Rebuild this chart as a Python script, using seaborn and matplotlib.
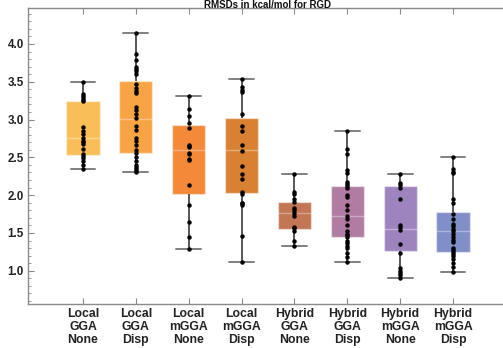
import pandas as pd
import seaborn as sns
import matplotlib.pyplot as plt
from matplotlib.ticker import MultipleLocator

# method labels (three lines each)
methods = ["Local\nGGA\nNone", "Local\nGGA\nDisp", "Local\nmGGA\nNone", "Local\nmGGA\nDisp",
           "Hybrid\nGGA\nNone", "Hybrid\nGGA\nDisp", "Hybrid\nmGGA\nNone", "Hybrid\nmGGA\nDisp"]

# box summary: min, Q1, median, Q3, max
box_min = [2.35, 2.30, 1.29, 1.11, 1.33, 1.11, 0.91, 0.98]
box_q1 = [2.53, 2.555, 2.01, 2.025, 1.555, 1.45, 1.26, 1.25]
box_med = [2.76, 3.01, 2.60, 2.60, 1.77, 1.725, 1.555, 1.53]
box_q3 = [3.25, 3.515, 2.925, 3.015, 1.915, 2.12, 2.12, 1.775]
box_max = [3.50, 4.14, 3.31, 3.54, 2.28, 2.85, 2.28, 2.50]

# individual RMSD points
pts_local_gga_none = [3.50, 3.34, 3.31, 3.28, 3.26, 3.24, 2.90, 2.85, 2.81, 2.76, 2.72, 2.70,
                      2.68, 2.61, 2.545, 2.52, 2.49, 2.45, 2.40, 2.35]
pts_local_gga_disp = [4.14, 3.87, 3.79, 3.70, 3.67, 3.64, 3.60, 3.47, 3.42, 3.38, 3.35, 3.16,
                      3.13, 3.07, 3.02, 2.91, 2.86, 2.75, 2.71, 2.66, 2.60, 2.56, 2.50, 2.45,
                      2.40, 2.37, 2.35, 2.32, 2.30]
pts_local_mgga_none = [3.31, 3.14, 3.05, 2.96, 2.89, 2.67, 2.655, 2.64, 2.56, 2.545, 2.48,
                       2.46, 2.14, 1.87, 1.65, 1.45, 1.29]
pts_local_mgga_disp = [3.54, 3.43, 3.39, 3.36, 3.07, 2.91, 2.85, 2.66, 2.59, 2.39, 2.28, 2.21,
                       2.045, 2.02, 1.90, 1.89, 1.87, 1.46, 1.11]
pts_hybrid_gga_none = [2.28, 2.045, 2.02, 1.95, 1.91, 1.83, 1.80, 1.76, 1.72, 1.58, 1.56,
                       1.53, 1.40, 1.33]
pts_hybrid_gga_disp = [2.85, 2.61, 2.54, 2.33, 2.29, 2.17, 2.15, 2.12, 2.09, 2.00, 1.97, 1.87,
                       1.80, 1.72, 1.69, 1.60, 1.52, 1.49, 1.47, 1.44, 1.40, 1.37, 1.33, 1.30,
                       1.23, 1.18, 1.11]
pts_hybrid_mgga_none = [2.28, 2.16, 2.13, 2.10, 1.95, 1.61, 1.58, 1.54, 1.36, 1.23, 1.03,
                        1.00, 0.97, 0.95, 0.91]
pts_hybrid_mgga_disp = [2.50, 2.34, 2.31, 2.29, 1.95, 1.89, 1.75, 1.68, 1.62, 1.59, 1.55, 1.53,
                        1.49, 1.45, 1.41, 1.38, 1.30, 1.27, 1.25, 1.22, 1.19, 1.16, 1.10, 1.05,
                        0.98]

colors = ["#F9BE57", "#F8A445", "#F48A37", "#D98033", "#C37653", "#B27BA3", "#9D84BF", "#818FC9"]

points = [pts_local_gga_none, pts_local_gga_disp, pts_local_mgga_none, pts_local_mgga_disp,
          pts_hybrid_gga_none, pts_hybrid_gga_disp, pts_hybrid_mgga_none, pts_hybrid_mgga_disp]

box_df = pd.DataFrame(
    [(m, v) for m, a, b, c, d, e in zip(methods, box_min, box_q1, box_med, box_q3, box_max)
     for v in (a, b, c, d, e)],
    columns=["method", "rmsd"])
pts_df = pd.DataFrame([(m, v) for m, p in zip(methods, points) for v in p],
                      columns=["method", "rmsd"])

sns.set_style("white")
plt.rcParams["font.family"] = ["Liberation Sans", "DejaVu Sans"]

fig = plt.figure(figsize=(5.03, 3.48), dpi=100)
ax = fig.add_axes([28 / 503, 1 - 304 / 348, 480 / 503, 296 / 348])

sns.boxplot(data=box_df, x="method", y="rmsd", order=methods, hue="method",
            palette=colors, legend=False, saturation=1, width=0.63, whis=(0, 100),
            linewidth=1.2, capwidths=0.47,
            boxprops=dict(edgecolor=(1, 1, 1, 0.45), linewidth=1),
            medianprops=dict(color=(1, 1, 1, 0.35), linewidth=1),
            whiskerprops=dict(color="#3a3a3a", linewidth=1.2),
            capprops=dict(color="#808080", linewidth=1.4),
            ax=ax)
sns.stripplot(data=pts_df, x="method", y="rmsd", order=methods, jitter=False,
              color="black", size=3.2, linewidth=0, zorder=5, ax=ax)

ax.set_xlim(-1.04, 8.04)
ax.set_ylim(0.56, 4.476)
ax.set_xlabel("")
ax.set_ylabel("")

ax.yaxis.set_major_locator(MultipleLocator(0.5))
ax.yaxis.set_minor_locator(MultipleLocator(0.1))
ax.set_yticks([1.0, 1.5, 2.0, 2.5, 3.0, 3.5, 4.0])
ax.set_yticklabels([f"{t:.1f}" for t in [1.0, 1.5, 2.0, 2.5, 3.0, 3.5, 4.0]])

for s in ax.spines.values():
    s.set_color("#8a8a8a")
    s.set_linewidth(1.0)
ax.spines["right"].set_visible(False)

ax.tick_params(axis="x", which="both", direction="in", top=True, bottom=True,
               length=4, color="#8a8a8a", pad=3, labelsize=8.8, labelcolor="#222222")
ax.tick_params(axis="y", which="major", direction="in", left=True, length=4,
               color="#8a8a8a", pad=3, labelsize=8.4, labelcolor="#222222")
ax.tick_params(axis="y", which="minor", direction="in", left=True, length=2, color="#8a8a8a")
for lab in ax.get_xticklabels():
    lab.set_fontweight("bold")
    lab.set_linespacing(1.12)
for lab in ax.get_yticklabels():
    lab.set_fontweight("bold")

# title squeezed into the thin band above the frame
fig.text(268 / 503, 1 - 0.5 / 348, "RMSDs in kcal/mol for RGD", ha="center", va="top",
         fontsize=7, fontweight="bold", color="#111111")

fig.savefig("out.png", dpi=100)
